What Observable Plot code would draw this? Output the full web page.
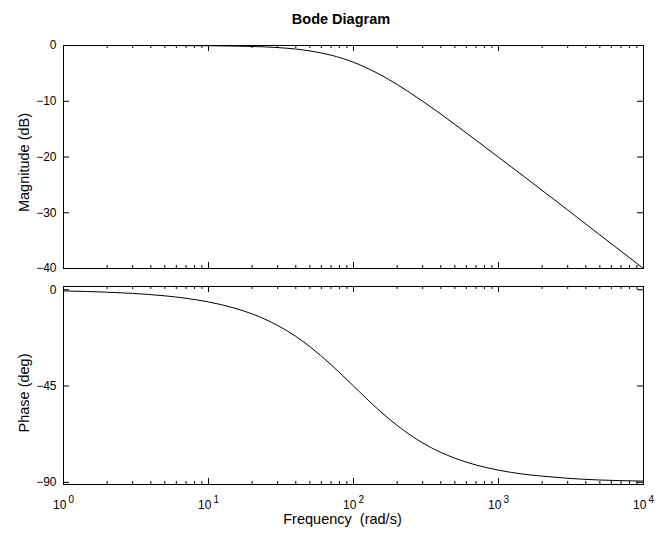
<!DOCTYPE html>
<html>
<head>
<meta charset="utf-8">
<script src="https://cdn.jsdelivr.net/npm/d3@7"></script>
<script src="https://cdn.jsdelivr.net/npm/@observablehq/plot@0.6"></script>
<style>
  body { margin: 0; background: #fff; }
  #fig { position: relative; width: 659px; height: 534px; background: #fff; font-family: "Liberation Sans", Arial, Helvetica, sans-serif; color: #000; }
  #title { position: absolute; left: 341px; top: 19px; transform: translate(-50%, -50%); font-size: 14.5px; font-weight: bold; line-height: 1; white-space: nowrap; }
  #mag, #phase { position: absolute; left: 0; }
  #mag { top: 36px; }
  #phase { top: 280px; }
</style>
</head>
<body>
<div id="fig">
  <div id="title">Bode Diagram</div>
  <div id="mag"></div>
  <div id="phase"></div>
</div>
<script>
// Frequency response samples (rad/s)
const freq = [1, 2, 3, 5, 7, 10, 15, 20, 30, 40, 50, 70, 100, 150, 200, 300, 400, 500, 700, 1000, 1500, 2000, 3000, 5000, 7000, 10000];
// Magnitude (dB)
const magnitude = [0, 0, 0, -0.01, -0.02, -0.04, -0.1, -0.17, -0.37, -0.64, -0.97, -1.73, -3.01, -5.12, -6.99, -10.0, -12.3, -14.15, -16.99, -20.04, -23.5, -26.0, -29.5, -33.98, -36.9, -40.0];
// Phase (deg)
const phase = [-0.57, -1.15, -1.72, -2.86, -4.0, -5.71, -8.53, -11.3, -16.7, -21.8, -26.6, -35.0, -45.0, -56.3, -63.4, -71.6, -76.0, -78.7, -81.9, -84.3, -86.2, -87.1, -88.1, -88.9, -89.2, -89.4];

// Axis ticks and labels
const decades = [1, 10, 100, 1000, 10000];
const magTicks = [0, -10, -20, -30, -40];
const phaseTicks = [0, -45, -90];
const minorTicks = decades.slice(0, -1).flatMap(d => d3.range(2, 10).map(k => k * d));

const magData = freq.map((f, i) => ({f, v: magnitude[i]}));
const phaseData = freq.map((f, i) => ({f, v: phase[i]}));

const font = {fontFamily: "'Liberation Sans', Arial, Helvetica, sans-serif", fontSize: "12px", color: "#000", background: "transparent", overflow: "visible"};
const W = 659;
const ML = 63, MR = 16;

// Inward-pointing ticks on all four sides of a panel
function frameTicks(innerH, yTicks) {
  const innerW = W - ML - MR;
  const major = 6, minor = 3;
  return [
    Plot.tickX(decades, {x: d => d, insetBottom: innerH - major, stroke: "#000"}),
    Plot.tickX(decades, {x: d => d, insetTop: innerH - major, stroke: "#000"}),
    Plot.tickX(minorTicks, {x: d => d, insetBottom: innerH - minor, stroke: "#000"}),
    Plot.tickX(minorTicks, {x: d => d, insetTop: innerH - minor, stroke: "#000"}),
    Plot.tickY(yTicks, {y: d => d, insetRight: innerW - major, stroke: "#000"}),
    Plot.tickY(yTicks, {y: d => d, insetLeft: innerW - major, stroke: "#000"})
  ];
}

// Magnitude panel
const magH = 244, magMT = 9, magMB = 12;
const magPlot = Plot.plot({
  width: W, height: magH,
  marginTop: magMT, marginBottom: magMB, marginLeft: ML, marginRight: MR,
  style: font,
  x: {type: "log", domain: [1, 10000], axis: null},
  y: {domain: [-40, 0], axis: null},
  marks: [
    Plot.axisY({ticks: magTicks, tickSize: 0, tickPadding: 7, label: null, fontSize: 12}),
    ...frameTicks(magH - magMT - magMB, magTicks),
    Plot.line(magData, {x: "f", y: "v", curve: "monotone-x", stroke: "#000", strokeWidth: 1}),
    Plot.frame({stroke: "#000", strokeWidth: 1}),
    Plot.text(["Magnitude (dB)"], {frameAnchor: "left", rotate: -90, dx: -39, dy: 5.5, textAnchor: "middle", lineAnchor: "middle", fontSize: 14.5, fill: "#000"})
  ]
});
document.getElementById("mag").append(magPlot);

// Phase panel
const phH = 254, phMT = 6, phMB = 50;
const phasePlot = Plot.plot({
  width: W, height: phH,
  marginTop: phMT, marginBottom: phMB, marginLeft: ML, marginRight: MR,
  style: font,
  x: {type: "log", domain: [1, 10000], axis: null},
  y: {domain: [-91, 1.5], axis: null},
  marks: [
    Plot.axisY({ticks: phaseTicks, tickSize: 0, tickPadding: 7, label: null, fontSize: 12}),
    Plot.axisX({ticks: decades, tickSize: 0, tickPadding: 16, label: null, fontSize: 12,
      tickFormat: d => String(Math.round(Math.log10(d)))}),
    ...frameTicks(phH - phMT - phMB, phaseTicks),
    Plot.line(phaseData, {x: "f", y: "v", curve: "monotone-x", stroke: "#000", strokeWidth: 1}),
    Plot.frame({stroke: "#000", strokeWidth: 1}),
    Plot.text(["Phase (deg)"], {frameAnchor: "left", rotate: -90, dx: -39, dy: 7.5, textAnchor: "middle", lineAnchor: "middle", fontSize: 14.5, fill: "#000"}),
    Plot.text(["Frequency\u00a0 (rad/s)"], {frameAnchor: "bottom", dx: -11, dy: 35, textAnchor: "middle", lineAnchor: "middle", fontSize: 14.5, fill: "#000"})
  ]
});
document.getElementById("phase").append(phasePlot);

// Decade labels drawn as 10 with a raised exponent
d3.select(phasePlot).selectAll('g[aria-label="x-axis tick label"] text').each(function() {
  const exp = this.textContent;
  const t = d3.select(this);
  t.text("10");
  t.append("tspan").attr("dx", 2).attr("dy", -6).attr("font-size", 10).text(exp);
});
</script>
</body>
</html>
